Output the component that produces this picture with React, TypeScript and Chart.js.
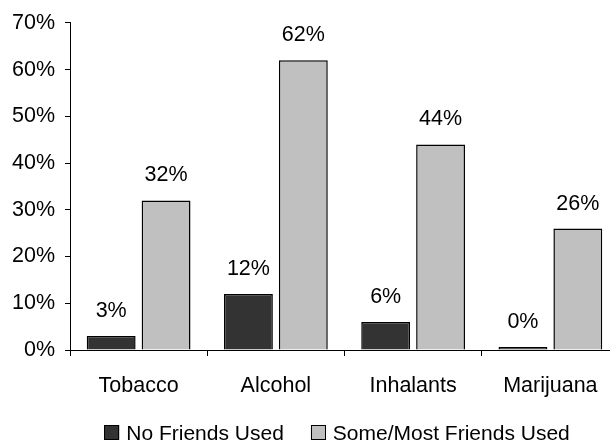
import { useEffect, useRef } from "react";
import { Chart, registerables } from "chart.js";

Chart.register(...registerables);

// Share of students reporting use, by whether their friends used
const categories = ["Tobacco", "Alcohol", "Inhalants", "Marijuana"];
const seriesNames = ["No Friends Used", "Some/Most Friends Used"];
const noFriendsUsed = [3, 12, 6, 0];
const someMostFriendsUsed = [32, 62, 44, 26];
const yTickValues = [0, 10, 20, 30, 40, 50, 60, 70];

const FONT = '"Liberation Sans", Arial, Helvetica, sans-serif';
const FONT_SIZE = 21.5;
const LEGEND_FONT_SIZE = 21;

// Percentage printed above every bar
const valueLabels = {
  id: "valueLabels",
  afterDatasetsDraw(chart: any) {
    const { ctx } = chart;
    ctx.save();
    ctx.font = `${FONT_SIZE}px ${FONT}`;
    ctx.fillStyle = "#000";
    ctx.textAlign = "center";
    ctx.textBaseline = "alphabetic";
    chart.data.datasets.forEach((ds: any, i: number) => {
      const meta = chart.getDatasetMeta(i);
      meta.data.forEach((bar: any, j: number) => {
        ctx.fillText(`${ds.data[j]}%`, bar.x, bar.y - 19);
      });
    });
    ctx.restore();
  },
};

// Single-row legend under the category labels
const bottomLegend = {
  id: "bottomLegend",
  afterDraw(chart: any) {
    const { ctx } = chart;
    ctx.save();
    ctx.font = `${LEGEND_FONT_SIZE}px ${FONT}`;
    const box = 15;
    const gap = 7;
    const itemGap = 27;
    const items = chart.data.datasets.map((ds: any) => ({
      text: ds.label as string,
      fill: ds.backgroundColor as string,
      w: ctx.measureText(ds.label).width as number,
    }));
    const total =
      items.reduce((s: number, it: any) => s + box + gap + it.w, 0) +
      itemGap * (items.length - 1);
    let x = 337 - total / 2;
    const yBox = 425;
    items.forEach((it: any) => {
      ctx.fillStyle = it.fill;
      ctx.fillRect(x, yBox, box, box);
      ctx.strokeStyle = "#000";
      ctx.lineWidth = 1;
      ctx.strokeRect(Math.round(x) + 0.5, yBox + 0.5, box - 1, box - 1);
      ctx.fillStyle = "#000";
      ctx.textAlign = "left";
      ctx.textBaseline = "alphabetic";
      ctx.fillText(it.text, x + box + gap, 440);
      x += box + gap + it.w + itemGap;
    });
    ctx.restore();
  },
};

export default function App() {
  const canvasRef = useRef<HTMLCanvasElement | null>(null);

  useEffect(() => {
    if (!canvasRef.current) return;
    const chart = new Chart(canvasRef.current, {
      type: "bar",
      data: {
        labels: categories,
        datasets: [
          {
            label: seriesNames[0],
            data: noFriendsUsed,
            backgroundColor: "#333333",
            borderColor: "#000000",
            borderWidth: 1.5,
            minBarLength: 3,
            categoryPercentage: 0.8,
            barPercentage: 0.89,
          },
          {
            label: seriesNames[1],
            data: someMostFriendsUsed,
            backgroundColor: "#C0C0C0",
            borderColor: "#000000",
            borderWidth: 1.5,
            categoryPercentage: 0.8,
            barPercentage: 0.89,
          },
        ],
      },
      options: {
        responsive: false,
        animation: false,
        devicePixelRatio: 1,
        layout: { padding: { left: 0, right: 11, top: 19, bottom: 0 } },
        plugins: {
          legend: { display: false },
          tooltip: { enabled: false },
        },
        scales: {
          x: {
            grid: {
              offset: true,
              drawOnChartArea: false,
              drawTicks: true,
              tickLength: 6,
              color: "#000",
            },
            border: { display: true, color: "#000", width: 1 },
            ticks: {
              color: "#000",
              font: { family: FONT, size: FONT_SIZE },
              padding: 17,
              maxRotation: 0,
            },
            afterFit(scale: any) {
              scale.height = 92;
            },
          },
          y: {
            min: 0,
            max: 70,
            grid: {
              drawOnChartArea: false,
              drawTicks: true,
              tickLength: 5,
              color: "#000",
            },
            border: { display: true, color: "#000", width: 1 },
            ticks: {
              color: "#000",
              font: { family: FONT, size: FONT_SIZE },
              padding: 10,
              callback: (v: any) => `${v}%`,
            },
            afterBuildTicks(scale: any) {
              scale.ticks = yTickValues.map((v) => ({ value: v }));
            },
            afterFit(scale: any) {
              scale.width = 70;
            },
          },
        },
      },
      plugins: [valueLabels, bottomLegend],
    });
    return () => chart.destroy();
  }, []);

  return (
    <div
      style={{
        position: "fixed",
        left: 0,
        top: 0,
        width: 610,
        height: 442,
        overflow: "hidden",
        background: "#fff",
      }}
    >
      <canvas
        ref={canvasRef}
        width={630}
        height={442}
        style={{ display: "block", width: 630, height: 442 }}
      />
    </div>
  );
}
